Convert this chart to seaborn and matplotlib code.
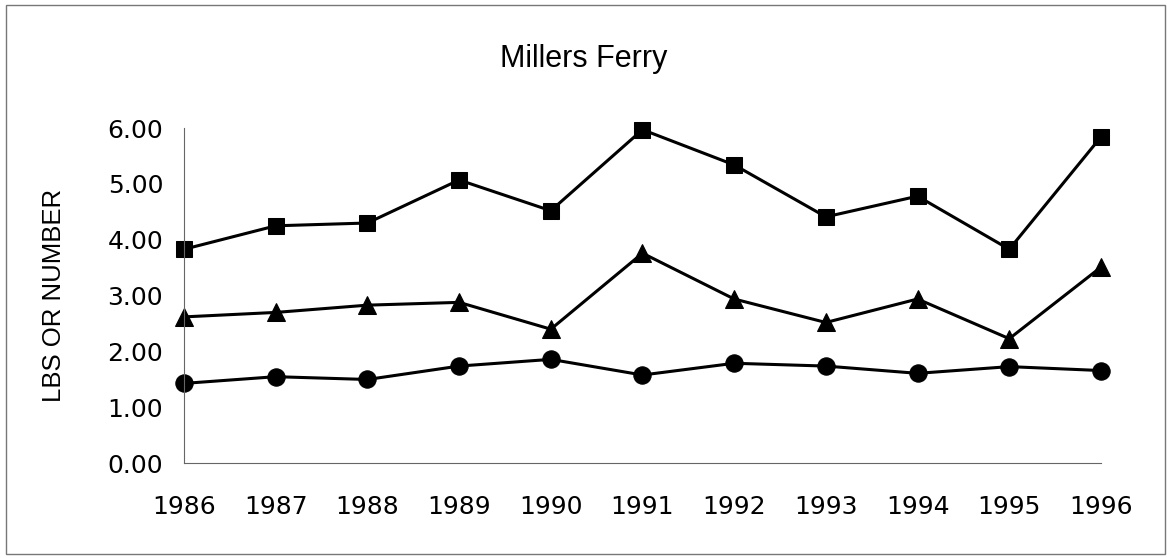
"""
Millers Ferry — three yearly series, 1986-1996, black line plot.
"""

import numpy as np
import pandas as pd
import matplotlib
matplotlib.use("Agg")
import matplotlib.pyplot as plt
import seaborn as sns
from matplotlib.patches import Rectangle

# ---------------------------------------------------------------------------
# Data
# ---------------------------------------------------------------------------
years = [1986, 1987, 1988, 1989, 1990, 1991, 1992, 1993, 1994, 1995, 1996]
squares = [3.83, 4.25, 4.30, 5.07, 4.52, 5.97, 5.34, 4.41, 4.78, 3.83, 5.84]
triangles = [2.62, 2.70, 2.83, 2.88, 2.40, 3.76, 2.94, 2.52, 2.94, 2.23, 3.51]
circles = [1.43, 1.55, 1.50, 1.74, 1.86, 1.58, 1.79, 1.74, 1.61, 1.73, 1.66]

y_ticks = [0, 1, 2, 3, 4, 5, 6]
title = "Millers Ferry"
y_label = "LBS OR NUMBER"

df = pd.DataFrame({"year": years * 3,
                   "value": squares + triangles + circles,
                   "series": ["squares"] * len(years) + ["triangles"] * len(years)
                             + ["circles"] * len(years)})

# ---------------------------------------------------------------------------
# Plot
# ---------------------------------------------------------------------------
sns.set_style("white")
plt.rcParams["font.family"] = ["Liberation Sans", "DejaVu Sans"]
plt.rcParams["text.color"] = "black"
plt.rcParams["axes.labelcolor"] = "black"
plt.rcParams["xtick.labelcolor"] = "black"
plt.rcParams["ytick.labelcolor"] = "black"

fig = plt.figure(figsize=(11.67, 5.58), dpi=100)
ax = fig.add_axes([0.1577, 0.1697, 0.7857, 0.6009])

marker_styles = {"squares": ("s", 12), "triangles": ("^", 12.5), "circles": ("o", 12.5)}
for name, (mk, ms) in marker_styles.items():
    sub = df[df["series"] == name]
    sns.lineplot(data=sub, x="year", y="value", ax=ax, color="black",
                 marker=mk, markersize=ms, markeredgecolor="black",
                 linewidth=2.2, clip_on=False, legend=False)

ax.set_xlim(years[0], years[-1])
ax.set_ylim(0, 6)
ax.set_xticks(years)
ax.set_xticklabels([str(y) for y in years])
ax.set_yticks(y_ticks)
ax.set_yticklabels([f"{v:.2f}" for v in y_ticks])
ax.set_xlabel("")
ax.set_ylabel(y_label, fontsize=18.5, labelpad=30, color="black")

for side in ["top", "right"]:
    ax.spines[side].set_visible(False)
for side in ["left", "bottom"]:
    ax.spines[side].set_color("#666666")
    ax.spines[side].set_linewidth(0.8)

ax.tick_params(axis="both", direction="inout", length=10, width=0.8,
               color="#666666", labelcolor="black")
ax.tick_params(axis="x", pad=18)
ax.tick_params(axis="y", pad=10)
for lbl in ax.get_xticklabels() + ax.get_yticklabels():
    lbl.set_family("DejaVu Sans")
    lbl.set_fontsize(18)
    lbl.set_color("black")

fig.text(0.5, 1 - 67 / 558, title, ha="center", va="baseline", fontsize=22,
         color="black")

# thin frame around the whole chart
fig.patches.append(Rectangle((0.005, 0.008), 0.993, 0.983, transform=fig.transFigure,
                             fill=False, edgecolor="#777777", linewidth=1.0))

fig.savefig("out.png", dpi=100)
plt.close(fig)
